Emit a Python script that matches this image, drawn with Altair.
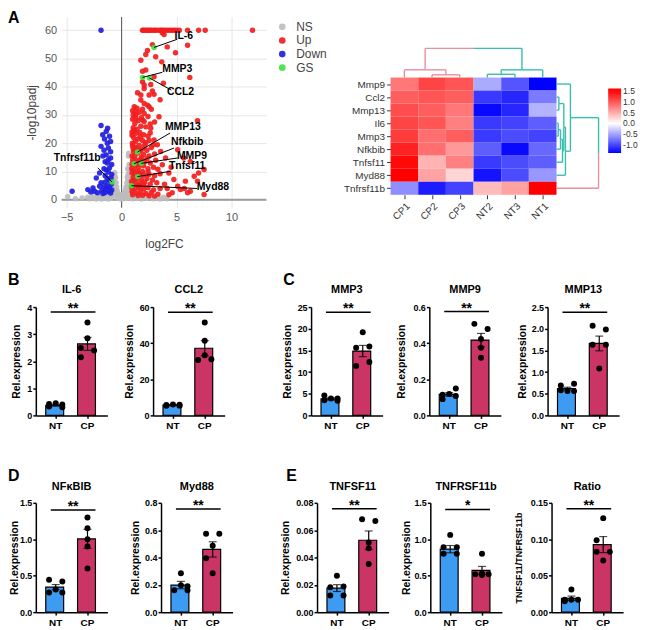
import altair as alt
import pandas as pd

FONT = "Liberation Sans"
NT_COLOR = "#3d9cf2"
CP_COLOR = "#cb3566"
PINK = "#e88fa0"
TEAL = "#38bfae"

# ---------------- Panel A (left): volcano plot ----------------
NS_PTS = [(-4.9, 1.1), (-4.2, 0.4), (-3.6, 0.6), (-3.1, 0.9), (-2.9, 0.4), (-2.7, 1.3), (-2.5, 0.8),
          (-2.3, 0.3), (-2.2, 1.6), (-2.0, 0.6), (-1.9, 1.1), (-1.8, 0.3), (-1.6, 0.5), (-1.5, 1.4),
          (-1.3, 0.8), (-1.2, 0.3), (-1.1, 1.7), (-1.0, 0.5), (-0.95, 2.3), (-0.9, 1.1), (-0.85, 3.0),
          (-0.8, 4.4), (-0.78, 5.8), (-0.75, 7.0), (-0.72, 8.6), (-0.7, 2.0), (-0.68, 4.0), (-0.65, 5.0),
          (-0.62, 9.6), (-0.6, 6.5), (-0.58, 3.4), (-0.55, 8.0), (-0.52, 1.5), (-0.5, 6.0), (-0.48, 2.6),
          (-0.45, 4.5), (-0.4, 3.2), (-0.38, 0.8), (-0.35, 2.2), (-0.3, 1.3), (-0.25, 0.5), (-0.2, 1.8),
          (-0.15, 0.9), (-0.1, 0.3), (0.0, 0.6), (0.05, 1.2), (0.1, 0.4), (0.15, 2.0), (0.2, 0.9),
          (0.25, 1.6), (0.3, 2.6), (0.35, 3.5), (0.38, 1.2), (0.4, 4.5), (0.42, 0.5), (0.45, 2.4),
          (0.48, 6.0), (0.5, 3.2), (0.52, 8.0), (0.55, 5.0), (0.55, 11.0), (0.58, 6.8), (0.6, 1.9),
          (0.6, 9.0), (0.62, 15.5), (0.63, 4.0), (0.65, 16.5), (0.66, 7.6), (0.68, 12.5), (0.7, 10.0),
          (0.7, 5.6), (0.72, 2.8), (0.75, 1.0), (0.78, 3.6), (0.8, 0.5), (0.82, 2.2), (0.85, 1.4),
          (0.9, 0.7), (1.0, 0.4), (1.2, 1.0), (1.4, 0.5), (1.6, 1.2), (1.8, 0.3), (2.0, 0.8), (2.3, 0.5),
          (2.6, 1.0), (2.9, 0.4), (3.2, 0.7), (3.5, 0.3), (3.8, 0.9), (4.1, 0.4)]

UP_PTS = [(1.9, 60), (2.0, 60), (2.15, 60), (2.3, 60), (2.45, 60), (2.6, 60), (2.75, 60), (2.95, 60),
          (3.1, 60), (3.3, 60), (3.5, 60), (3.65, 60), (3.8, 60), (4.0, 60), (4.2, 60), (4.4, 60),
          (4.6, 60), (4.8, 60), (5.0, 60), (5.25, 60), (6.0, 60), (7.0, 60), (7.6, 60), (11.9, 60),
          (3.86, 58.5), (3.7, 59.1), (2.8, 54.9), (2.35, 52.8), (4.15, 54.1), (6.0, 54.7), (2.2, 51.4),
          (3.1, 50.6), (4.9, 52.0), (1.75, 49.4), (3.65, 48.8), (1.9, 45.5), (2.2, 45.9), (2.95, 43.5),
          (1.9, 41.8), (2.05, 40.6), (2.65, 40.8), (3.8, 41.2), (6.2, 43.3), (2.05, 39.4), (2.8, 38.5),
          (1.45, 37.9), (1.75, 37.1), (2.5, 37.1), (2.95, 37.3), (3.5, 35.4), (1.75, 35.3), (2.05, 34.1),
          (2.5, 32.9),
          (1.15, 32.9), (1.4, 32.4), (1.0, 31.5), (1.25, 31.0), (1.6, 31.0), (2.05, 30.5), (1.3, 30.0),
          (2.4, 29.5), (1.8, 29.0), (3.4, 29.4), (2.35, 33.5), (2.7, 32.0), (1.9, 32.0), (1.05, 30.0),
          (1.0, 28.5), (1.5, 28.0), (2.05, 27.7), (1.2, 27.0), (2.6, 26.8), (1.75, 26.0), (1.05, 25.5),
          (2.65, 25.3), (1.4, 25.0), (2.2, 25.8), (3.0, 27.5), (1.3, 28.8), (1.9, 28.2), (6.9, 28.0),
          (0.95, 24.0), (1.3, 23.5), (1.65, 23.8), (2.0, 23.0), (2.4, 22.5), (1.1, 22.0), (1.5, 21.5),
          (1.9, 21.0), (2.95, 21.2), (1.25, 20.5), (2.2, 20.2), (0.98, 20.0), (3.25, 19.5), (2.6, 23.6),
          (1.15, 24.5), (1.7, 22.3), (2.5, 21.0), (0.95, 22.8),
          (1.0, 19.0), (1.3, 18.5), (1.6, 19.2), (1.9, 18.0), (2.3, 17.5), (2.7, 18.5), (3.55, 17.1),
          (1.1, 17.0), (1.5, 16.5), (2.0, 16.0), (2.5, 15.5), (3.0, 16.2), (0.95, 15.5), (1.2, 15.2),
          (1.8, 15.0), (4.0, 14.8), (5.1, 17.7), (5.65, 14.8), (1.05, 18.0), (1.45, 17.8), (2.1, 19.3),
          (1.7, 17.3), (2.9, 19.5),
          (1.0, 14.0), (1.35, 13.8), (1.7, 14.2), (2.1, 13.5), (2.6, 13.0), (3.1, 14.0), (3.7, 12.4),
          (0.95, 12.5), (1.25, 12.0), (1.55, 11.5), (2.0, 12.0), (2.4, 11.0), (2.9, 11.5), (3.3, 10.8),
          (1.1, 10.5), (1.45, 10.2), (1.9, 10.0), (6.25, 13.6), (7.5, 10.7), (4.5, 11.5), (1.2, 13.2),
          (2.3, 14.5), (0.92, 11.0), (1.6, 12.8),
          (0.95, 9.5), (1.2, 9.0), (1.6, 9.3), (2.0, 8.8), (2.5, 9.0), (3.0, 8.5), (3.5, 9.2), (4.3, 9.5),
          (7.0, 9.5), (6.6, 8.3), (1.05, 8.0), (1.4, 7.5), (1.8, 7.2), (2.3, 7.5), (2.8, 7.0), (4.75, 7.2),
          (5.8, 6.6), (6.9, 6.6), (0.9, 6.5), (1.3, 6.0), (1.7, 5.8), (2.1, 6.2), (2.6, 5.5), (3.2, 6.0),
          (3.9, 5.5), (1.0, 5.2), (1.5, 5.0), (1.1, 7.0), (2.0, 5.2), (2.4, 9.8),
          (0.9, 4.5), (1.2, 4.0), (1.6, 4.2), (2.0, 3.8), (2.4, 4.3), (2.9, 3.5), (3.5, 4.0), (4.15, 4.0),
          (5.1, 4.8), (5.35, 3.6), (6.25, 3.0), (7.5, 1.9), (0.95, 3.0), (1.3, 2.5), (1.7, 2.8),
          (2.2, 2.2), (2.7, 2.6), (3.3, 2.0), (4.6, 2.5), (1.0, 1.8), (1.5, 1.5), (1.9, 1.6), (6.0, 2.5),
          (5.7, 4.0), (4.3, 1.8), (2.5, 1.4), (3.0, 1.3)]

DOWN_PTS = [(-1.87, 60), (-1.87, 26.3), (-1.27, 25.3), (-1.4, 24.2), (-1.72, 23.0), (-1.1, 22.5),
            (-1.55, 21.5), (-1.0, 20.6), (-1.3, 20.0), (-1.87, 18.9), (-1.2, 18.3), (-1.6, 17.5),
            (-1.0, 17.0), (-1.4, 15.9), (-1.7, 15.5), (-1.0, 14.8), (-1.2, 14.2), (-1.5, 13.5),
            (-1.3, 13.0), (-0.9, 12.5), (-1.1, 11.3), (-1.6, 11.0), (-1.4, 10.5), (-2.0, 9.5),
            (-1.2, 9.8), (-0.9, 9.0), (-1.5, 8.5), (-0.96, 7.7), (-2.3, 7.7), (-1.3, 7.5), (-1.1, 6.8),
            (-1.87, 6.0), (-1.5, 6.2), (-0.95, 5.5), (-1.3, 5.0), (-2.0, 4.8), (-1.6, 4.5), (-1.1, 4.2),
            (-2.6, 4.2), (-1.4, 3.8), (-3.07, 3.6), (-2.47, 3.0), (-1.8, 3.2), (-1.2, 3.0), (-0.9, 3.5),
            (-4.5, 3.0), (-2.2, 2.5), (-1.5, 2.6), (-1.0, 2.4), (-2.8, 2.8), (-1.7, 2.2)]

GS_GENE = ["IL-6", "MMP3", "CCL2", "MMP13", "Nfkbib", "MMP9", "Tnfsf11", "Myd88", "Tnfrsf11b"]
GS_X = [2.95, 1.9, 2.53, 1.45, 1.14, 1.8, 1.45, 0.9, -0.87]
GS_Y = [53.9, 43.3, 43.1, 16.9, 12.8, 12.9, 8.2, 5.0, 6.3]
GS_LINE_X = [5.06, 3.7, 4.52, 4.4, 4.76, 5.1, 4.46, 6.87, -2.17]
GS_LINE_Y = [56.8, 45.1, 38.8, 23.6, 18.3, 14.8, 10.1, 4.0, 11.3]
GS_LABEL_X = [5.66, 5.06, 5.36, 5.57, 5.96, 6.4, 5.96, 8.3, -4.04]
GS_LABEL_Y = [58.0, 46.2, 38.2, 25.7, 20.4, 15.6, 11.8, 4.45, 14.8]

VOLCANO_X_TICKS = [-5, 0, 5, 10]
VOLCANO_Y_TICKS = [0, 10, 20, 30, 40, 50, 60]
VOLCANO_GROUPS = ["NS", "Up", "Down", "GS"]
VOLCANO_COLORS = ["#bdbdbd", "#f21d1d", "#1f1fdf", "#3fe33f"]

# ---------------- Panel A (right): heatmap ----------------
HM_ROWS = ["Mmp9", "Ccl2", "Mmp13", "Il6", "Mmp3", "Nfkbib", "Tnfsf11", "Myd88", "Tnfrsf11b"]
HM_COLS = ["CP1", "CP2", "CP3", "NT2", "NT3", "NT1"]
HM_MMP9 = [0.8, 1.1, 1.0, -0.45, -0.9, -1.35]
HM_CCL2 = [0.95, 1.0, 0.95, -1.05, -1.15, -0.7]
HM_MMP13 = [1.05, 0.95, 0.8, -1.3, -1.15, -0.4]
HM_IL6 = [1.1, 1.0, 0.75, -1.05, -1.0, -0.85]
HM_MMP3 = [1.15, 0.85, 0.95, -1.05, -0.95, -1.0]
HM_NFKBIB = [1.3, 0.85, 0.6, -0.85, -1.3, -0.8]
HM_TNFSF11 = [1.45, 0.45, 0.75, -1.05, -0.95, -0.85]
HM_MYD88 = [1.5, 0.55, 0.25, -1.25, -0.95, -0.55]
HM_TNFRSF11B = [-0.6, -1.2, -1.0, 0.4, 0.55, 1.5]
HM_LEGEND_TICKS = [1.5, 1.0, 0.5, 0.0, -0.5, -1.0]
HM_COLOR_STOPS = [-1.35, 0, 1.5, 1.6]
HM_COLOR_RANGE = ["#0000ff", "#ffffff", "#ff0000", "#ff0000"]
# dendrograms: (left child, right child, merge height, colour left, colour right)
COL_TREE = [("CP2", "CP3", 0.21, PINK, PINK), ("CP1", "n0", 0.59, PINK, PINK),
            ("NT2", "NT3", 0.25, TEAL, TEAL), ("n2", "NT1", 0.59, TEAL, TEAL),
            ("n1", "n3", 2.24, PINK, TEAL)]
ROW_TREE = [("Ccl2", "Mmp13", 0.084, TEAL, TEAL), ("Il6", "Mmp3", 0.06, TEAL, TEAL),
            ("n1", "Nfkbib", 0.144, TEAL, TEAL), ("n2", "Tnfsf11", 0.216, TEAL, TEAL),
            ("n0", "n3", 0.263, TEAL, TEAL), ("n4", "Myd88", 0.323, TEAL, TEAL),
            ("Mmp9", "n5", 0.503, TEAL, TEAL), ("n6", "Tnfrsf11b", 1.52, TEAL, PINK)]

# ---------------- Panels B-E: qPCR bar charts ----------------
GENES = ["IL-6", "CCL2", "MMP3", "MMP9", "MMP13", "NF\u03baBIB", "Myd88", "TNFSF11", "TNFRSF11b", "Ratio"]
NT_MEAN = [0.37, 5.7, 3.8, 0.116, 0.62, 0.343, 0.198, 0.0176, 0.864, 0.019]
CP_MEAN = [2.64, 37.2, 14.85, 0.417, 1.66, 1.005, 0.459, 0.0526, 0.573, 0.0927]
NT_SEM = [0.03, 0.3, 0.25, 0.01, 0.03, 0.035, 0.027, 0.0025, 0.05, 0.003]
CP_SEM = [0.24, 4.2, 1.3, 0.037, 0.17, 0.13, 0.056, 0.0068, 0.054, 0.011]
SIG_Y = [3.82, 57.1, 23.8, 0.575, 2.38, 1.40, 0.755, 0.0756, 1.41, 0.142]
STARS = ["**", "**", "**", "**", "**", "**", "**", "**", "*", "**"]
Y_MAX = [4, 60, 25, 0.6, 2.5, 1.5, 0.8, 0.08, 1.5, 0.15]
Y_TICKS = [[0, 1, 2, 3, 4], [0, 20, 40, 60], [0, 5, 10, 15, 20, 25], [0, 0.2, 0.4, 0.6],
           [0, 0.5, 1.0, 1.5, 2.0, 2.5], [0, 0.5, 1.0, 1.5], [0, 0.2, 0.4, 0.6, 0.8],
           [0, 0.02, 0.04, 0.06, 0.08], [0, 0.5, 1.0, 1.5], [0, 0.05, 0.10, 0.15]]
Y_FMT = ["d", "d", "d", ".1f", ".1f", ".1f", ".1f", ".2f", ".1f", ".2f"]
Y_TITLE = ["Rel.expression"] * 9 + ["TNFSF11/TNFRSF11b"]
Y_TITLE_PAD = [5, 5, 5, 6.5, 3.5, 0, 4.5, 5.5, 2.5, 6.5]

IL6_NT = [("L", 0.42), ("C", 0.45), ("R", 0.40), ("L", 0.33), ("R", 0.30)]
IL6_CP = [("C", 3.43), ("C", 2.85), ("L", 2.49), ("R", 2.40), ("L", 2.15)]
CCL2_NT = [("L", 5.8), ("C", 6.0), ("R", 5.9), ("L", 5.3), ("R", 5.4)]
CCL2_CP = [("C", 51.5), ("C", 41.3), ("C", 33.3), ("L", 30.7), ("R", 31.1)]
MMP3_NT = [("L", 4.6), ("C", 3.9), ("R", 3.9), ("L", 3.5), ("R", 3.4)]
MMP3_CP = [("C", 19.2), ("L", 15.6), ("R", 15.9), ("L", 11.4), ("R", 12.3)]
MMP9_NT = [("L", 0.115), ("C", 0.119), ("R", 0.149), ("L", 0.09), ("R", 0.107)]
MMP9_CP = [("L", 0.507), ("R", 0.479), ("C", 0.423), ("C", 0.375), ("C", 0.319)]
MMP13_NT = [("L", 0.69), ("R", 0.73), ("L", 0.58), ("C", 0.56), ("R", 0.56)]
MMP13_CP = [("L", 2.07), ("R", 1.98), ("L", 1.63), ("R", 1.63), ("C", 1.08)]
NFKBIB_NT = [("L", 0.445), ("R", 0.42), ("L", 0.27), ("C", 0.31), ("R", 0.27)]
NFKBIB_CP = [("C", 1.30), ("C", 1.15), ("C", 1.0), ("C", 0.90), ("C", 0.60)]
MYD88_NT = [("C", 0.285), ("C", 0.196), ("L", 0.16), ("R", 0.16), ("R", 0.19)]
MYD88_CP = [("L", 0.573), ("R", 0.573), ("C", 0.486), ("L", 0.394), ("C", 0.285)]
TNFSF11_NT = [("C", 0.0267), ("L", 0.0182), ("R", 0.0187), ("L", 0.0121), ("R", 0.0121)]
TNFSF11_CP = [("L", 0.068), ("R", 0.0667), ("C", 0.051), ("C", 0.0468), ("C", 0.0352)]
TNFRSF11B_NT = [("C", 1.06), ("L", 0.89), ("R", 0.89), ("L", 0.80), ("R", 0.80)]
TNFRSF11B_CP = [("C", 0.80), ("L", 0.52), ("C", 0.51), ("R", 0.52), ("C", 0.53)]
RATIO_NT = [("C", 0.031), ("L", 0.017), ("C", 0.017), ("R", 0.017), ("L", 0.015)]
RATIO_CP = [("C", 0.129), ("L", 0.0986), ("R", 0.0827), ("L", 0.083), ("C", 0.0709)]

# =====================================================================
# Volcano
vdf = pd.DataFrame(
    [{"vx": x, "vy": y, "grp": "NS"} for x, y in NS_PTS]
    + [{"vx": x, "vy": y, "grp": "Up"} for x, y in UP_PTS]
    + [{"vx": x, "vy": y, "grp": "Down"} for x, y in DOWN_PTS]
    + [{"vx": x, "vy": y, "grp": "GS"} for x, y in zip(GS_X, GS_Y)]
)
vx_scale = alt.Scale(domain=[-5.45, 13.16], nice=False, zero=False)
vy_scale = alt.Scale(domain=[-2.8, 64.7], nice=False, zero=False)
vx_axis = alt.Axis(values=VOLCANO_X_TICKS, grid=True, gridColor="#e6e6e6", domain=False, ticks=False,
                   labelFont=FONT, labelFontSize=11, labelColor="#555", labelPadding=4,
                   title="log2FC", titleFont=FONT, titleFontSize=12, titleFontWeight="normal",
                   titleColor="#444", titlePadding=16)
vy_axis = alt.Axis(values=VOLCANO_Y_TICKS, grid=True, gridColor="#e6e6e6", domain=False, ticks=False,
                   labelFont=FONT, labelFontSize=11, labelColor="#555", labelPadding=5,
                   title="-log10padj", titleFont=FONT, titleFontSize=12, titleFontWeight="normal",
                   titleColor="#444", titlePadding=6)
VX = alt.X("vx:Q", scale=vx_scale, axis=vx_axis)
VY = alt.Y("vy:Q", scale=vy_scale, axis=vy_axis)

zero_v = alt.Chart(pd.DataFrame({"vx": [0]})).mark_rule(color="#555", strokeWidth=1).encode(x=VX)
zero_h = alt.Chart(pd.DataFrame({"vy": [0]})).mark_rule(color="#9a9a9a", strokeWidth=2).encode(y=VY)
pts = alt.Chart(vdf).mark_circle(size=30, opacity=0.92).encode(
    x=VX, y=VY,
    color=alt.Color("grp:N", sort=VOLCANO_GROUPS,
                    scale=alt.Scale(domain=VOLCANO_GROUPS, range=VOLCANO_COLORS),
                    legend=alt.Legend(title=None, orient="none", legendX=216, legendY=4,
                                      symbolType="circle", symbolSize=45, symbolStrokeWidth=0,
                                      labelFont=FONT, labelFontSize=12, labelColor="#444",
                                      labelOffset=8, rowPadding=1.7, padding=0)),
)
ldf = pd.DataFrame({"vx": GS_X, "vy": GS_Y, "vx2": GS_LINE_X, "vy2": GS_LINE_Y})
lines = alt.Chart(ldf).mark_rule(color="black", strokeWidth=1).encode(x=VX, y=VY, x2="vx2:Q", y2="vy2:Q")
tdf = pd.DataFrame({"vx": GS_LABEL_X, "vy": GS_LABEL_Y, "t": GS_GENE})
texts = alt.Chart(tdf).mark_text(font=FONT, fontSize=10.5, fontWeight="bold", color="black").encode(
    x=VX, y=VY, text="t:N")
volcano = alt.layer(zero_v, zero_h, pts, lines, texts).properties(width=206, height=192)

# Heatmap
HM_VALUES = [HM_MMP9, HM_CCL2, HM_MMP13, HM_IL6, HM_MMP3, HM_NFKBIB, HM_TNFSF11, HM_MYD88, HM_TNFRSF11B]
NR, NC = len(HM_ROWS), len(HM_COLS)
hm_records = []
for r, row_vals in enumerate(HM_VALUES):
    for c, v in enumerate(row_vals):
        hm_records.append({"c0": c, "c1": c + 1, "r0": NR - r - 1, "r1": NR - r, "v": v})
hm_df = pd.DataFrame(hm_records)


def dendro_segments(tree, leaf_pos, to_xy):
    nodes = {k: (p, 0.0) for k, p in leaf_pos.items()}
    segs = []
    for i, (a, b, h, cl, cr) in enumerate(tree):
        pa, ha = nodes[a]
        pb, hb = nodes[b]
        mid = (pa + pb) / 2
        for (p1, h1, p2, h2, col) in [(pa, ha, pa, h, cl), (pb, hb, pb, h, cr),
                                      (pa, h, mid, h, cl), (mid, h, pb, h, cr)]:
            x1, y1 = to_xy(p1, h1)
            x2, y2 = to_xy(p2, h2)
            segs.append({"c0": x1, "r0": y1, "c1": x2, "r1": y2, "col": col})
        nodes["n%d" % i] = (mid, h)
    return segs


col_leaf = {name: c + 0.5 for c, name in enumerate(HM_COLS)}
row_leaf = {name: NR - r - 0.5 for r, name in enumerate(HM_ROWS)}
seg_df = pd.DataFrame(
    dendro_segments(COL_TREE, col_leaf, lambda p, h: (p, NR + h))
    + dendro_segments(ROW_TREE, row_leaf, lambda p, h: (NC + h, p))
)

ROW_H = 118 / 9.0
COL_W = 167 / 6.0
HM_W, HM_H = 210, 179
hx_scale = alt.Scale(domain=[0, HM_W / COL_W], nice=False, zero=False)
hy_scale = alt.Scale(domain=[0, HM_H / ROW_H], nice=False, zero=False)
col_expr = "[" + ",".join("'%s'" % c for c in HM_COLS) + "][floor(datum.value)]"
row_expr = "[" + ",".join("'%s'" % r for r in reversed(HM_ROWS)) + "][floor(datum.value)]"
hx_axis = alt.Axis(values=[c + 0.5 for c in range(NC)], labelExpr=col_expr, labelAngle=315, title=None,
                   domain=False, grid=False, tickSize=4, tickColor="#333", labelFont=FONT,
                   labelFontSize=10, labelColor="#333", labelPadding=2)
hy_axis = alt.Axis(values=[r + 0.5 for r in range(NR)], labelExpr=row_expr, title=None, domain=False,
                   grid=False, tickSize=4, tickColor="#333", labelFont=FONT, labelFontSize=10,
                   labelColor="#333", labelPadding=2)
HX = alt.X("c0:Q", scale=hx_scale, axis=hx_axis)
HY = alt.Y("r0:Q", scale=hy_scale, axis=hy_axis)
rects = alt.Chart(hm_df).mark_rect(strokeWidth=0).encode(
    x=HX, x2="c1:Q", y=HY, y2="r1:Q",
    color=alt.Color("v:Q", scale=alt.Scale(domain=HM_COLOR_STOPS, range=HM_COLOR_RANGE, interpolate="rgb"),
                    legend=alt.Legend(title=None, orient="none", legendX=219, legendY=72,
                                      direction="vertical", gradientLength=65, gradientThickness=13,
                                      values=HM_LEGEND_TICKS,
                                      labelExpr="replace(format(datum.value, '.1f'), '\u2212', '-')",
                                      labelFont=FONT, labelFontSize=8.5, labelColor="#333", labelOffset=2,
                                      gradientStrokeWidth=0, labelOverlap=False, padding=0)),
)
dendro = alt.Chart(seg_df).mark_rule(strokeWidth=1.4).encode(
    x=HX, x2="c1:Q", y=HY, y2="r1:Q", stroke=alt.Stroke("col:N", scale=None))
heatmap = alt.layer(rects, dendro).properties(width=HM_W, height=HM_H)


# Bar panels
def bar_panel(i, nt_pts, cp_pts, height):
    ymax = Y_MAX[i]
    bars = pd.DataFrame({
        "grp": ["NT", "CP"],
        "mean": [NT_MEAN[i], CP_MEAN[i]],
        "lo": [NT_MEAN[i] - NT_SEM[i], CP_MEAN[i] - CP_SEM[i]],
        "hi": [NT_MEAN[i] + NT_SEM[i], CP_MEAN[i] + CP_SEM[i]],
    })
    pdf = pd.DataFrame([{"grp": "NT", "slot": s, "val": v} for s, v in nt_pts]
                       + [{"grp": "CP", "slot": s, "val": v} for s, v in cp_pts])
    sig = pd.DataFrame({"sig": [SIG_Y[i]], "stars": [STARS[i]]})
    xaxis = alt.Axis(title=None, labelAngle=0, labelFont=FONT, labelFontWeight="bold", labelFontSize=10,
                     labelColor="black", domainColor="black", domainWidth=1.5, tickColor="black",
                     tickWidth=1.5, tickSize=3, labelPadding=2, grid=False)
    X = alt.X("grp:N", sort=["NT", "CP"], scale=alt.Scale(domain=["NT", "CP"], paddingInner=0.375,
                                                          paddingOuter=0.3125), axis=xaxis)
    yscale = alt.Scale(domain=[0, ymax], nice=False, zero=True)
    yaxis = alt.Axis(values=Y_TICKS[i], format=Y_FMT[i], title=Y_TITLE[i], titleFont=FONT,
                     titleFontSize=9 if i == 9 else 10.5, titleFontWeight="bold", titleColor="black",
                     titlePadding=Y_TITLE_PAD[i], labelFont=FONT, labelFontSize=9, labelFontWeight="bold",
                     labelColor="black", labelPadding=1, tickSize=3, tickWidth=1.5, tickColor="black",
                     domainColor="black", domainWidth=1.5, grid=False)

    def Y(f):
        return alt.Y(f, scale=yscale, axis=yaxis)

    bar = alt.Chart(bars).mark_bar(stroke="black", strokeWidth=1.2).encode(
        x=X, y=Y("mean:Q"),
        fill=alt.Fill("grp:N", scale=alt.Scale(domain=["NT", "CP"], range=[NT_COLOR, CP_COLOR]), legend=None))
    err = alt.Chart(bars).mark_rule(color="black", strokeWidth=1.2).encode(x=X, y=Y("lo:Q"), y2="hi:Q")
    cap_hi = alt.Chart(bars).mark_tick(color="black", thickness=1.2, size=8).encode(x=X, y=Y("hi:Q"))
    cap_lo = alt.Chart(bars).mark_tick(color="black", thickness=1.2, size=8).encode(x=X, y=Y("lo:Q"))
    dots = alt.Chart(pdf).mark_circle(size=36, color="black", opacity=1).encode(
        x=X, xOffset=alt.XOffset("slot:N", sort=["L", "C", "R"], scale=alt.Scale(domain=["L", "C", "R"])),
        y=Y("val:Q"))
    sig_rule = alt.Chart(sig).mark_rule(color="black", strokeWidth=1.5).encode(
        x=alt.value(15), x2=alt.value(60), y=Y("sig:Q"))
    sig_text = alt.Chart(sig).mark_text(font=FONT, fontSize=14, fontWeight="bold", color="black",
                                        baseline="alphabetic", dy=1).encode(
        x=alt.value(37.5), y=Y("sig:Q"), text="stars:N")
    return alt.layer(bar, err, cap_hi, cap_lo, dots, sig_rule, sig_text).properties(
        width=72, height=height,
        title=alt.TitleParams(GENES[i], font=FONT, fontSize=11, fontWeight="bold", color="black",
                              frame="group", anchor="middle", offset=7))


def spacer(w):
    return alt.Chart(pd.DataFrame({"t": [""]})).mark_text().encode(text="t:N").properties(width=w, height=1)


def letter_cell(letters, xs, ys, top, bottom):
    """Panel letters plus an invisible rule fixing the vertical extent of the row."""
    df = pd.DataFrame({"t": letters, "px": xs, "py": ys})
    txt = alt.Chart(df).mark_text(font=FONT, fontSize=16, fontWeight="bold", color="black",
                                  align="left", baseline="top").encode(
        x=alt.X("px:Q", scale=None, axis=None), y=alt.Y("py:Q", scale=None, axis=None), text="t:N")
    ext = alt.Chart(pd.DataFrame({"a": [0]})).mark_rule(opacity=0).encode(
        x=alt.value(0), y=alt.value(top), y2=alt.value(bottom))
    return alt.layer(ext, txt).properties(width=1, height=1)


def row(*cells):
    return alt.hconcat(*cells, spacing=0, bounds="flush").resolve_scale(
        x="independent", y="independent", color="independent", fill="independent", xOffset="independent"
    ).resolve_legend(color="independent")


p = [
    bar_panel(0, IL6_NT, IL6_CP, 109), bar_panel(1, CCL2_NT, CCL2_CP, 109),
    bar_panel(2, MMP3_NT, MMP3_CP, 109), bar_panel(3, MMP9_NT, MMP9_CP, 109),
    bar_panel(4, MMP13_NT, MMP13_CP, 109),
    bar_panel(5, NFKBIB_NT, NFKBIB_CP, 110), bar_panel(6, MYD88_NT, MYD88_CP, 110),
    bar_panel(7, TNFSF11_NT, TNFSF11_CP, 110), bar_panel(8, TNFRSF11B_NT, TNFRSF11B_CP, 110),
    bar_panel(9, RATIO_NT, RATIO_CP, 110),
]

row1 = row(letter_cell(["A"], [-27], [-7], -7, 240), spacer(26), volcano, spacer(125), heatmap)
row2 = row(letter_cell(["B", "C"], [-27, 250], [-35.5, -35.5], -36, 145),
           p[0], spacer(46), p[1], spacer(87), p[2], spacer(47), p[3], spacer(47), p[4])
row3 = row(letter_cell(["D", "E"], [-27, 253], [-35, -35], -36, 10),
           p[5], spacer(54), p[6], spacer(85), p[7], spacer(42), p[8], spacer(50), p[9])

chart = alt.vconcat(row1, row2, row3, spacing=16, padding=0).resolve_scale(
    x="independent", y="independent", color="independent", fill="independent", xOffset="independent"
).resolve_legend(color="independent").configure_view(stroke=None).configure_axis(grid=False)

chart.save("out.html", embed_options={"renderer": "svg", "actions": False})
